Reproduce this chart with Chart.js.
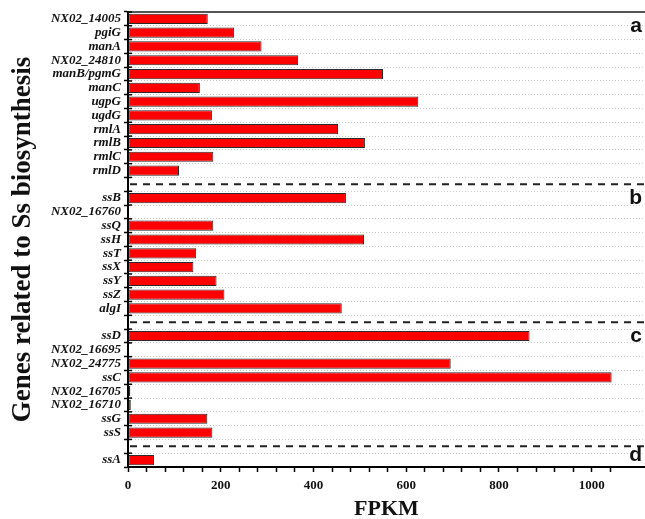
<!DOCTYPE html>
<html>
<head>
<meta charset="utf-8">
<script src="https://cdn.jsdelivr.net/npm/chart.js@4.4.0/dist/chart.umd.min.js"></script>
<style>
    html, body { margin: 0; padding: 0; background: #fff; }
    #box { width: 645px; height: 519px; }
</style>
</head>
<body>
<div id="box"><canvas id="fpkm-chart"></canvas></div>
<script>
// empty labels are the spacer rows where the dashed group separators go
const genes = [
    'NX02_14005', 'pgiG', 'manA', 'NX02_24810', 'manB/pgmG', 'manC', 'ugpG', 'ugdG', 'rmlA', 'rmlB', 'rmlC', 'rmlD',
    '',
    'ssB', 'NX02_16760', 'ssQ', 'ssH', 'ssT', 'ssX', 'ssY', 'ssZ', 'algI',
    '',
    'ssD', 'NX02_16695', 'NX02_24775', 'ssC', 'NX02_16705', 'NX02_16710', 'ssG', 'ssS',
    '',
    'ssA'
]
const fpkm = [
    172, 229, 288, 367, 550, 155, 626, 181, 453, 511, 184, 110,
    null,
    470, 0, 184, 509, 147, 141, 191, 208, 461,
    null,
    866, 0, 696, 1043, 5, 6, 171, 182,
    null,
    56
]
const groupLetters = ['a', 'b', 'c', 'd']
const letterRows = [0.5, 13, 23, 31.65]
const xTicks = [0, 200, 400, 600, 800, 1000]

const serif = 'Liberation Serif'

const groupMarks = {
    id: 'groupMarks',
    afterDatasetsDraw(chart) {
        const ctx = chart.ctx
        const area = chart.chartArea
        const y = chart.scales.y
        ctx.save()
        // top frame line
        ctx.strokeStyle = '#555'
        ctx.lineWidth = 2
        ctx.beginPath()
        ctx.moveTo(area.left, area.top)
        ctx.lineTo(area.right, area.top)
        ctx.stroke()
        // inner half of the y ticks
        ctx.strokeStyle = '#000'
        ctx.lineWidth = 1.5
        for (let i = 0; i <= genes.length; i++) {
            const py = y.getPixelForValue(i - 0.5)
            ctx.beginPath()
            ctx.moveTo(area.left, py)
            ctx.lineTo(area.left + 4, py)
            ctx.stroke()
        }
        // dashed separators
        ctx.strokeStyle = '#222'
        ctx.lineWidth = 2
        ctx.setLineDash([7, 6])
        genes.forEach((g, i) => {
            if (g !== '') return
            const py = y.getPixelForValue(i)
            ctx.beginPath()
            ctx.moveTo(area.left + 2, py)
            ctx.lineTo(area.right, py)
            ctx.stroke()
        })
        ctx.setLineDash([])
        // group letters
        ctx.fillStyle = '#111'
        ctx.font = 'bold 21px "Liberation Sans"'
        ctx.textAlign = 'right'
        ctx.textBaseline = 'middle'
        groupLetters.forEach((l, i) => {
            ctx.fillText(l, area.right - 3, y.getPixelForValue(letterRows[i]))
        })
        ctx.restore()
    }
}

const ctx = document.getElementById('fpkm-chart').getContext('2d')
const fpkmChart = new Chart(ctx, {
    type: 'bar',
    data: {
        labels: genes,
        datasets: [{
            label: 'FPKM',
            data: fpkm,
            backgroundColor: '#ff0000',
            borderColor: '#2a2a2a',
            borderWidth: 1,
            borderSkipped: false,
            barPercentage: 0.74,
            categoryPercentage: 1
        }]
    },
    options: {
        indexAxis: 'y',
        responsive: true,
        maintainAspectRatio: false,
        animation: false,
        layout: {
            padding: { top: 12, right: 0, left: 0, bottom: 0 }
        },
        plugins: {
            legend: { display: false },
            tooltip: { enabled: false }
        },
        scales: {
            x: {
                min: 0,
                max: 1115,
                afterFit(scale) { scale.height = 52 },
                afterBuildTicks(scale) {
                    scale.ticks = scale.ticks.filter(t => t.value % 40 === 0)
                },
                ticks: {
                    stepSize: 40,
                    autoSkip: false,
                    maxRotation: 0,
                    padding: 6,
                    color: '#111',
                    font: { family: serif, weight: 'bold', size: 13 },
                    callback: (v) => xTicks.includes(v) ? v : ''
                },
                grid: {
                    drawOnChartArea: false,
                    tickLength: 5,
                    tickColor: '#000',
                    tickWidth: 1.5
                },
                border: { color: '#000', width: 2 },
                title: {
                    display: true,
                    text: 'FPKM',
                    color: '#111',
                    padding: { top: 6, bottom: -4 },
                    font: { family: serif, weight: 'bold', size: 22 }
                }
            },
            y: {
                afterFit(scale) { scale.width = 128 },
                ticks: {
                    autoSkip: false,
                    padding: 3,
                    color: '#111',
                    font: { family: serif, weight: 'bold', style: 'italic', size: 13 }
                },
                grid: {
                    offset: true,
                    color: '#cccccc',
                    lineWidth: 1,
                    tickLength: 4,
                    tickColor: '#000',
                    tickWidth: 1.5,
                    tickBorderDash: []
                },
                border: { color: '#000', width: 2, dash: [1, 2] },
                title: {
                    display: true,
                    text: 'Genes related to Ss biosynthesis',
                    color: '#111',
                    padding: { top: 7, bottom: 0 },
                    font: { family: serif, weight: 'bold', size: 27 }
                }
            }
        }
    },
    plugins: [groupMarks]
})
</script>
</body>
</html>
